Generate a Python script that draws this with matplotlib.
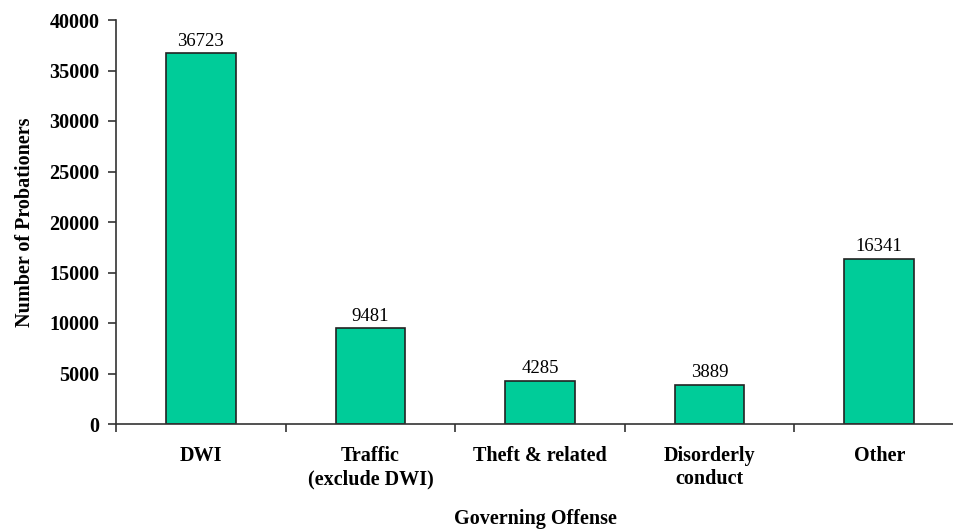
import numpy as np
import matplotlib
matplotlib.use("Agg")
import matplotlib.pyplot as plt
from matplotlib.ticker import FixedLocator

# data
categories = ["DWI", "Traffic\n(exclude DWI)", "Theft & related", "Disorderly\nconduct", "Other"]
probationers = [36723, 9481, 4285, 3889, 16341]
yticks = [0, 5000, 10000, 15000, 20000, 25000, 30000, 35000, 40000]

plt.rcParams['font.family'] = ['Liberation Serif', 'DejaVu Serif']

fig = plt.figure(figsize=(9.54, 5.31), dpi=100)
ax = fig.add_axes([116/954, 107/531, 838/954, 404/531])

x = np.arange(len(categories))
bars = ax.bar(x, probationers, width=0.41, color='#00CC99', edgecolor='#222222', linewidth=1.2)

for xi, v in zip(x, probationers):
    ax.text(xi, v + 350, str(v), ha='center', va='bottom', fontsize=13.5)

ax.set_xlim(-0.5, -0.5 + 838/169.6)
ax.set_ylim(0, 40000)
ax.set_yticks(yticks)
ax.set_yticklabels([str(t) for t in yticks], fontsize=14.5, fontweight='bold')

ax.set_xticks(x)
ax.set_xticklabels(categories, fontsize=14.5, fontweight='bold', linespacing=1.2, va='top')
ax.tick_params(axis='x', which='major', length=0, pad=16)
ax.xaxis.set_minor_locator(FixedLocator(np.arange(-0.5, len(categories) + 0.5, 1.0)))
ax.tick_params(axis='x', which='minor', length=6, width=1.2, direction='out', color='#333333')
ax.tick_params(axis='y', length=6, width=1.2, direction='out', color='#333333', pad=6)

for s in ['top', 'right']:
    ax.spines[s].set_visible(False)
for s in ['left', 'bottom']:
    ax.spines[s].set_linewidth(1.2)
    ax.spines[s].set_color('#333333')

ax.set_ylabel("Number of Probationers", fontsize=14.5, fontweight='bold', labelpad=10)
ax.set_xlabel("Governing Offense", fontsize=14.5, fontweight='bold', labelpad=14)

fig.savefig("out.png", dpi=100)
